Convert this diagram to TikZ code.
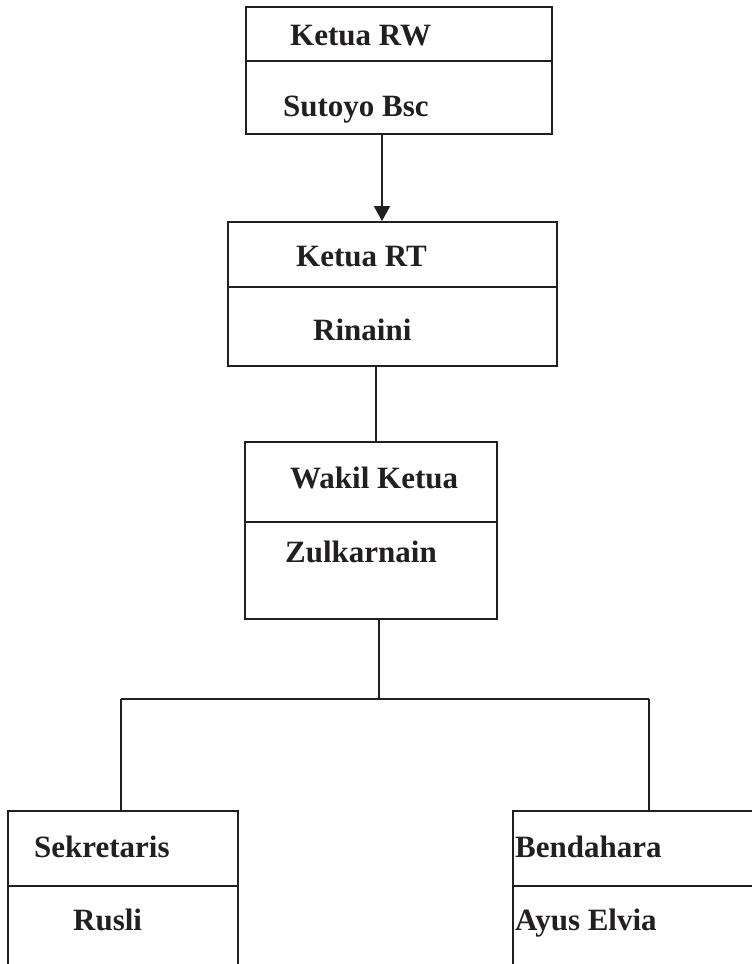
\documentclass[tikz,border=0pt]{standalone}
\usepackage{fontspec}
\setmainfont{Liberation Serif}
\usetikzlibrary{arrows.meta}
\definecolor{ink}{HTML}{231F20}
\begin{document}
\begin{tikzpicture}[x=1pt,y=-1pt,
  box/.style={draw=ink,line width=1.9pt,rectangle,inner sep=0pt},
  conn/.style={draw=ink,line width=1.9pt},
  lbl/.style={anchor=base west,inner sep=0pt,text=ink,font=\fontsize{31}{37}\selectfont\bfseries}]
\clip (0,0) rectangle (752,964);
\fill[white] (0,0) rectangle (752,964);
% boxes
\node[box,minimum width=306pt,minimum height=127pt] (rw) at (399,70.5) {};
\node[box,minimum width=329pt,minimum height=144pt] (rt) at (392.5,294) {};
\node[box,minimum width=252pt,minimum height=177pt] (wk) at (371,530.5) {};
\node[box,minimum width=230pt,minimum height=170pt] (sk) at (123,896) {};
\node[box,minimum width=260pt,minimum height=170pt] (bd) at (643,896) {};
% dividers
\draw[conn] ([yshift=-55pt]rw.north west) -- ([yshift=-55pt]rw.north east);
\draw[conn] ([yshift=-66pt]rt.north west) -- ([yshift=-66pt]rt.north east);
\draw[conn] ([yshift=-81pt]wk.north west) -- ([yshift=-81pt]wk.north east);
\draw[conn] ([yshift=-76pt]sk.north west) -- ([yshift=-76pt]sk.north east);
\draw[conn] ([yshift=-76pt]bd.north west) -- ([yshift=-76pt]bd.north east);
% labels
\node[lbl] (t1) at (290,45) {Ketua RW};
\node[lbl] (n1) at (283,116) {Sutoyo Bsc};
\node[lbl] (t2) at (296,266) {Ketua RT};
\node[lbl] (n2) at (313,340) {Rinaini};
\node[lbl] (t3) at (290,488) {Wakil Ketua};
\node[lbl] (n3) at (285,562) {Zulkarnain};
\node[lbl] (t4) at (34,857) {Sekretaris};
\node[lbl] (n4) at (73,930) {Rusli};
\node[lbl] (t5) at (515,857) {Bendahara};
\node[lbl] (n5) at (515,930) {Ayus Elvia};
% connectors
\coordinate (a1) at (382,0);
\coordinate (a2) at (376,0);
\coordinate (j) at (379,699);
\coordinate (jl) at (121,699);
\coordinate (jr) at (649,699);
\draw[conn,-{Triangle[length=15pt,width=16pt]}] (rw.south -| a1) -- (rt.north -| a1);
\draw[conn] (rt.south -| a2) -- (wk.north -| a2);
\draw[conn] (wk.south -| j) -- (j);
\draw[conn] (jl) -- (jr);
\draw[conn] (jl) -- (sk.north -| jl);
\draw[conn] (jr) -- (bd.north -| jr);
\end{tikzpicture}
\end{document}
